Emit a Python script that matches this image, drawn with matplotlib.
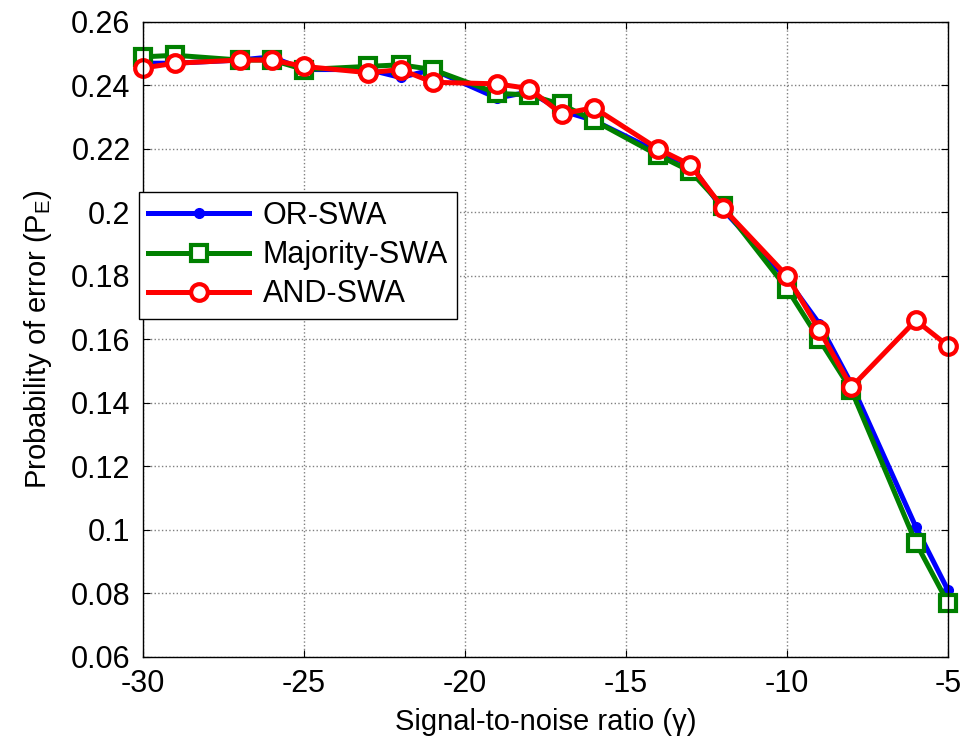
import matplotlib
matplotlib.use("Agg")
import matplotlib.pyplot as plt
from matplotlib.ticker import FuncFormatter

plt.rcParams['font.family'] = ['Liberation Sans', 'DejaVu Sans']
plt.rcParams['axes.unicode_minus'] = False
plt.rcParams['mathtext.default'] = 'regular'

snr = [-30, -29, -27, -26, -25, -23, -22, -21, -19, -18, -17, -16, -14, -13, -12, -10, -9, -8, -6, -5]

or_swa = [0.247, 0.247, 0.248, 0.249, 0.245, 0.245, 0.2425, 0.245, 0.236, 0.238, 0.232, 0.229,
          0.219, 0.215, 0.201, 0.179, 0.165, 0.146, 0.101, 0.081]
majority_swa = [0.249, 0.2495, 0.248, 0.248, 0.245, 0.246, 0.2465, 0.245, 0.2375, 0.237, 0.234, 0.229,
                0.218, 0.213, 0.202, 0.176, 0.160, 0.144, 0.096, 0.077]
and_swa = [0.2455, 0.247, 0.248, 0.248, 0.246, 0.244, 0.245, 0.241, 0.2405, 0.239, 0.231, 0.233,
           0.220, 0.215, 0.2015, 0.180, 0.163, 0.145, 0.166, 0.158]

fig = plt.figure(figsize=(9.6, 7.41), dpi=100)
ax = fig.add_axes([0.149, 0.1134, 0.8385, 0.857])

ax.plot(snr, or_swa, color='blue', lw=3.6, marker='o', ms=7, label='OR-SWA', clip_on=False)
ax.plot(snr, majority_swa, color='green', lw=3.6, marker='s', ms=11.5, mfc='white', mew=3,
        label='Majority-SWA', clip_on=False)
ax.plot(snr, and_swa, color='red', lw=3.6, marker='o', ms=12, mfc='white', mew=3,
        label='AND-SWA', clip_on=False)

ax.set_xlim(-30, -5)
ax.set_ylim(0.06, 0.26)
ax.set_xticks([-30, -25, -20, -15, -10, -5])
ax.set_yticks([0.06, 0.08, 0.1, 0.12, 0.14, 0.16, 0.18, 0.2, 0.22, 0.24, 0.26])
ax.yaxis.set_major_formatter(FuncFormatter(lambda v, p: f'{v:g}'))
ax.tick_params(direction='in', top=True, right=True, labelsize=22, length=5, pad=9)
ax.grid(True, linestyle=':', color='gray', lw=1)
for s in ax.spines.values():
    s.set_linewidth(1)

ax.set_xlabel('Signal-to-noise ratio (γ)', fontsize=21, labelpad=6)
ax.set_ylabel('Probability of error (P$_E$)', fontsize=21, labelpad=12)

leg = ax.legend(loc='upper left', bbox_to_anchor=(0.1448, 0.741), bbox_transform=fig.transFigure,
                fontsize=22, fancybox=False, edgecolor='black', framealpha=1, handlelength=3.3,
                labelspacing=0.3, borderpad=0.3, handletextpad=0.45, borderaxespad=0)
leg.get_frame().set_linewidth(1)

fig.savefig('out.png', dpi=100)
